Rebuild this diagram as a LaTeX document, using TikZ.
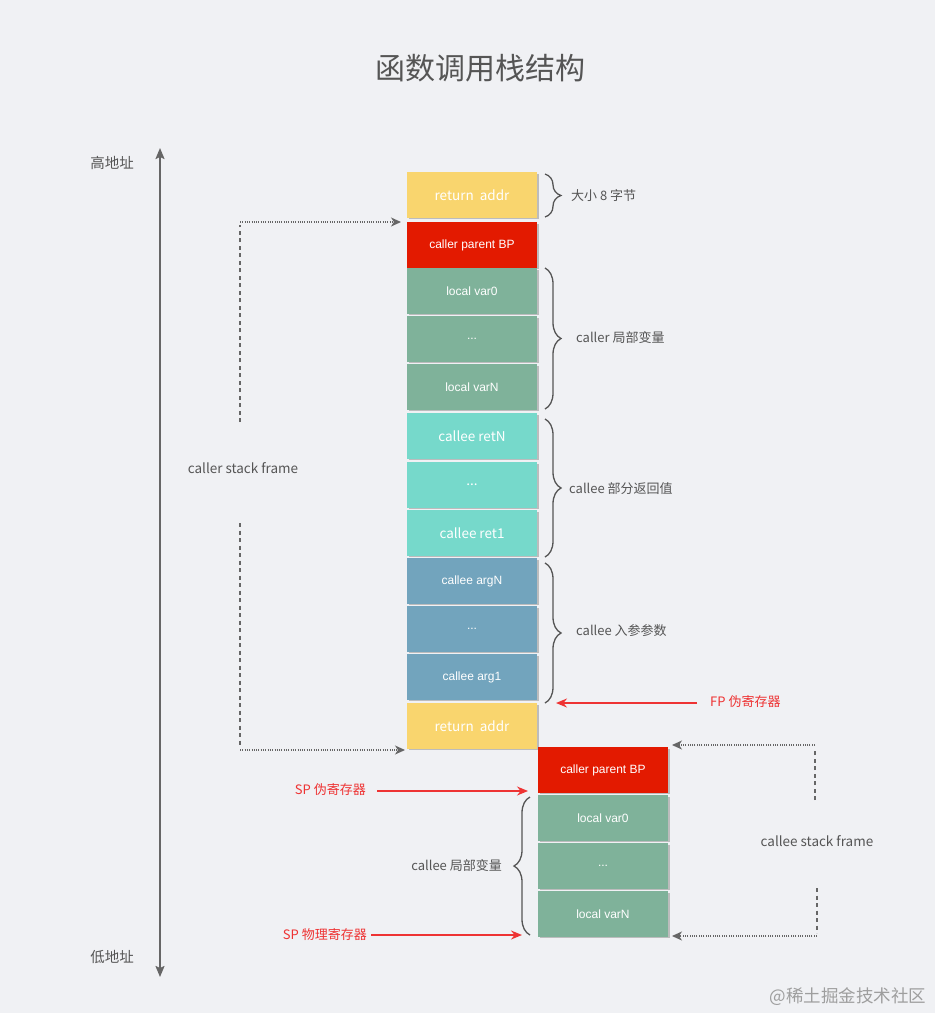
\documentclass[tikz,border=0pt]{standalone}
\usepackage{fontspec}
\setmainfont{Noto Sans CJK SC}
\newfontfamily\helv{Liberation Sans}
\usetikzlibrary{arrows.meta,decorations.pathreplacing,shadows}
\definecolor{bg}{HTML}{F0F1F4}
\definecolor{txt}{HTML}{555555}
\definecolor{gline}{HTML}{666666}
\definecolor{cyellow}{HTML}{F9D56E}
\definecolor{cred}{HTML}{E31A00}
\definecolor{cgreen}{HTML}{7FB29A}
\definecolor{cteal}{HTML}{76D9CB}
\definecolor{cblue}{HTML}{72A4BD}
\definecolor{rarrow}{HTML}{EE3333}
\begin{document}
\begin{tikzpicture}[x=1pt,y=-1pt,
  cell/.style={minimum width=130pt, minimum height=45.5pt, inner sep=0pt, text=white,
    font=\fontsize{13.5}{15}\selectfont,
    drop shadow={shadow xshift=1.5pt,shadow yshift=-1.5pt,fill=black!35,opacity=0.7}},
  hcell/.style={cell, font=\helv\fontsize{12}{14}\selectfont},
  lbl/.style={text=txt, font=\fontsize{13}{15}\selectfont, inner sep=0pt},
  rlbl/.style={text=rarrow, font=\fontsize{13}{15}\selectfont, inner sep=0pt},
  brc/.style={draw=txt, line width=1.3pt, decorate, decoration={brace, amplitude=16pt}},
  redarrow/.style={draw=rarrow, line width=1.4pt, -{Stealth[length=11pt,width=9pt]}},
  dotline/.style={draw=gline, line width=1.4pt, dash pattern=on 1pt off 1.3pt},
  dashline/.style={draw=gline, line width=1.4pt, dash pattern=on 4pt off 3.5pt},
  gtip/.style={-{Stealth[length=10pt,width=9pt,inset=3pt]}}
]
\fill[bg] (0,0) rectangle (935,1013);
\useasboundingbox (0,0) rectangle (935,1013);

% title
\node[text=txt, font=\fontsize{30}{32}\selectfont] (title) at (480,68) {函数调用栈结构};

% address axis
\node[lbl, font=\fontsize{14.5}{16}\selectfont] (hi) at (112,163) {高地址};
\node[lbl, font=\fontsize{14.5}{16}\selectfont] (lo) at (112,957) {低地址};
\coordinate (axtop) at (160,148);
\coordinate (axbot) at (160,977);
\draw[gline, line width=1.8pt, {Stealth[length=11pt,width=9pt,inset=2pt]}-{Stealth[length=11pt,width=9pt,inset=2pt]}] (axtop) -- (axbot);

% caller stack column
\node[cell, fill=cyellow] (ra1) at (472,195) {return\ \ addr};
\node[hcell, fill=cred] (bp1) at (472,245) {caller parent BP};
\node[hcell, fill=cgreen] (lv0) at (472,291) {local var0};
\node[hcell, fill=cgreen] (lvd) at (472,339) {...};
\node[hcell, fill=cgreen] (lvn) at (472,387) {local varN};
\node[cell, fill=cteal] (rtn) at (472,436) {callee retN};
\node[cell, fill=cteal] (rtd) at (472,485) {...};
\node[cell, fill=cteal] (rt1) at (472,533) {callee ret1};
\node[hcell, fill=cblue] (agn) at (472,581) {callee argN};
\node[hcell, fill=cblue] (agd) at (472,629) {...};
\node[hcell, fill=cblue] (ag1) at (472,677) {callee arg1};
\node[cell, fill=cyellow] (ra2) at (472,726) {return\ \ addr};

% callee stack column
\node[hcell, fill=cred] (bp2) at (603,770) {caller parent BP};
\node[hcell, fill=cgreen] (cl0) at (603,818) {local var0};
\node[hcell, fill=cgreen] (cld) at (603,866) {...};
\node[hcell, fill=cgreen] (cln) at (603,914) {local varN};

% braces
\draw[brc] (545,174) -- (545,217);
\node[lbl, anchor=west] (s8) at (571,196) {大小 8 字节};
\draw[brc] (545,268) -- (545,409);
\node[lbl, anchor=west] (clv) at (576,338) {caller 局部变量};
\draw[brc] (545,419) -- (545,557);
\node[lbl, anchor=west] (crv) at (569,489) {callee 部分返回值};
\draw[brc] (545,563) -- (545,703);
\node[lbl, anchor=west] (cag) at (576,631) {callee 入参参数};
\draw[brc] (530,935) -- (530,797);
\node[lbl, anchor=east] (cel) at (502,866) {callee 局部变量};

% register pointers
\node[rlbl, anchor=west] (fp) at (710,702) {FP 伪寄存器};
\coordinate (fpstart) at (697,703);
\coordinate (fptip) at (556,703);
\draw[redarrow] (fpstart) -- (fptip);
\node[rlbl, anchor=east] (sp1) at (366,790) {SP 伪寄存器};
\coordinate (sp1start) at (377,791);
\coordinate (sp1tip) at (528,791);
\draw[redarrow] (sp1start) -- (sp1tip);
\node[rlbl, anchor=east] (sp2) at (367,935) {SP 物理寄存器};
\coordinate (sp2start) at (371,935);
\coordinate (sp2tip) at (522,935);
\draw[redarrow] (sp2start) -- (sp2tip);

% caller stack frame
\node[lbl, font=\fontsize{13.5}{15}\selectfont] (csf) at (243,468) {caller stack frame};
\coordinate (c1a) at (240,422);
\coordinate (c1b) at (240,222);
\coordinate (c1c) at (401,222);
\coordinate (c2a) at (240,523);
\coordinate (c2b) at (240,750);
\coordinate (c2c) at (405,750);
\draw[dashline] (c1a) -- ([yshift=-3pt]c1b);
\draw[dotline, gtip] (c1b) -- (c1c);
\draw[dashline] (c2a) -- ([yshift=3pt]c2b);
\draw[dotline, gtip] (c2b) -- (c2c);

% callee stack frame
\node[lbl, font=\fontsize{13.5}{15}\selectfont] (esf) at (817,841) {callee stack frame};
\coordinate (e1a) at (815,800);
\coordinate (e1b) at (815,745);
\coordinate (e1c) at (672,745);
\coordinate (e2a) at (817,888);
\coordinate (e2b) at (817,936);
\coordinate (e2c) at (672,936);
\draw[dashline] (e1a) -- ([yshift=-3pt]e1b);
\draw[dotline, gtip] (e1b) -- (e1c);
\draw[dashline] (e2a) -- ([yshift=3pt]e2b);
\draw[dotline, gtip] (e2b) -- (e2c);

% watermark
\node[text=black!38, font=\fontsize{17.5}{19}\selectfont, anchor=east] (wm) at (930,997) {@稀土掘金技术社区};
\end{tikzpicture}
\end{document}
